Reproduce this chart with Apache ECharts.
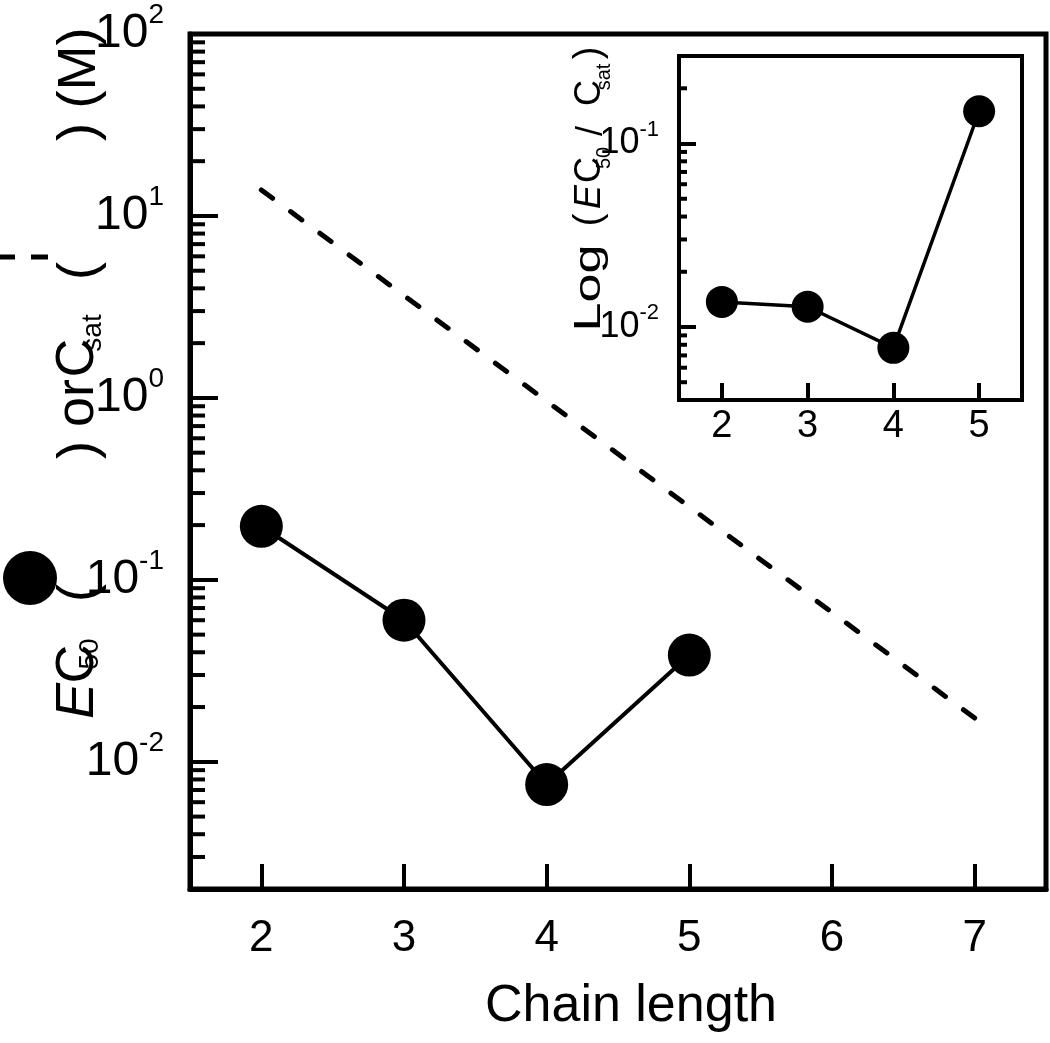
<!DOCTYPE html>
<html>
<head>
<meta charset="utf-8">
<script src="https://cdn.jsdelivr.net/npm/echarts@6/dist/echarts.min.js"></script>
<style>
  html, body { margin: 0; padding: 0; background: #fff; }
  #chart { width: 1050px; height: 1043px; }
</style>
</head>
<body>
<div id="chart"></div>
<script>
  // main panel: EC50 (filled circles) and Csat (dashed line) vs chain length
  const chainLength = [2, 3, 4, 5]
  const ec50 = [0.197, 0.060, 0.0075, 0.0386]
  const csatChain = [2, 7]
  const csat = [13.9, 0.0174]
  // inset: EC50 / Csat
  const insetChain = [2, 3, 4, 5]
  const ratio = [0.0137, 0.0129, 0.0077, 0.15]

  const FONT = 'Liberation Sans, Arial, Helvetica, sans-serif'

  // minor ticks of a log axis (2..9 x 10^n inside the range)
  function logMinor(lo, hi) {
    const out = []
    for (let e = -4; e <= 2; e++) {
      for (let k = 2; k <= 9; k++) {
        const v = +(k * Math.pow(10, e)).toPrecision(3)
        if (v > lo * 1.001 && v < hi * 0.999) out.push(v)
      }
    }
    return out
  }
  const mainMinor = logMinor(0.002, 100)
  const insetMinor = logMinor(0.004, 0.3)

  function powLabel(v) {
    const e = Math.log10(v)
    const r = Math.round(e)
    if (Math.abs(e - r) > 1e-6) return ''
    return '{b|10}{s|' + r + '}'
  }
  function intLabel(v) {
    return Math.abs(v - Math.round(v)) < 1e-6 ? String(Math.round(v)) : ''
  }

  function minorTickSeries(xi, yi, xMin, data, len, width) {
    return {
      type: 'custom',
      xAxisIndex: xi,
      yAxisIndex: yi,
      silent: true,
      clip: false,
      data: data.map(v => [xMin, v]),
      renderItem: (params, api) => {
        const p = api.coord([api.value(0), api.value(1)])
        return {
          type: 'line',
          shape: { x1: p[0], y1: p[1], x2: p[0] + len, y2: p[1] },
          style: { stroke: '#000', lineWidth: width }
        }
      }
    }
  }

  // rotated (bottom-to-top) text piece of an axis title
  function vtext(x, y, text, size, extra) {
    return Object.assign({
      type: 'text',
      x: x,
      y: y,
      rotation: Math.PI / 2,
      silent: true,
      style: Object.assign({
        text: text,
        fontSize: size,
        fontFamily: FONT,
        fill: '#000',
        align: 'center',
        verticalAlign: 'middle'
      }, (extra && extra.style) || {})
    }, extra && extra.scaleX ? { scaleX: extra.scaleX } : {})
  }

  function hdash(x1, x2, y) {
    return {
      type: 'line', silent: true,
      shape: { x1: x1, y1: y, x2: x2, y2: y },
      style: { stroke: '#000', lineWidth: 5 }
    }
  }

  const option = {
    animation: false,
    backgroundColor: '#fff',
    grid: [
      {
        left: 190, top: 34, right: 4, bottom: 154,
        show: true, borderColor: '#000', borderWidth: 5
      },
      {
        left: 679, top: 56, right: 28, bottom: 643,
        show: true, borderColor: '#000', borderWidth: 4, backgroundColor: '#fff'
      }
    ],
    xAxis: [
      {
        type: 'value', gridIndex: 0, min: 1.5, max: 7.5, splitNumber: 6,
        axisLine: { lineStyle: { color: '#000', width: 5 } },
        axisTick: { inside: true, length: 25, lineStyle: { color: '#000', width: 4 } },
        axisLabel: {
          formatter: intLabel, fontSize: 44, color: '#000', fontFamily: FONT, margin: 28
        },
        splitLine: { show: false },
        name: 'Chain length',
        nameLocation: 'middle',
        nameGap: 92,
        nameTextStyle: { fontSize: 52, color: '#000', fontFamily: FONT, padding: [0, 0, 0, 26] }
      },
      {
        type: 'value', gridIndex: 1, min: 1.5, max: 5.5, splitNumber: 4,
        axisLine: { lineStyle: { color: '#000', width: 4 } },
        axisTick: { inside: true, length: 17, lineStyle: { color: '#000', width: 4 } },
        axisLabel: {
          formatter: intLabel, fontSize: 38, color: '#000', fontFamily: FONT, margin: 8
        },
        splitLine: { show: false }
      }
    ],
    yAxis: [
      {
        type: 'log', gridIndex: 0, logBase: 10, min: 0.002, max: 100,
        axisLine: { lineStyle: { color: '#000', width: 5 } },
        axisTick: { inside: true, length: 28, lineStyle: { color: '#000', width: 4 } },
        axisLabel: {
          formatter: powLabel, margin: 26, color: '#000',
          rich: {
            b: { fontSize: 48, fontFamily: FONT, color: '#000', lineHeight: 66 },
            s: { fontSize: 28, fontFamily: FONT, color: '#000', verticalAlign: 'top' }
          }
        },
        splitLine: { show: false }
      },
      {
        type: 'log', gridIndex: 1, logBase: 10, min: 0.004, max: 0.3,
        axisLine: { lineStyle: { color: '#000', width: 4 } },
        axisTick: { inside: true, length: 17, lineStyle: { color: '#000', width: 4 } },
        axisLabel: {
          formatter: powLabel, margin: 20, color: '#000',
          rich: {
            b: { fontSize: 36, fontFamily: FONT, color: '#000', lineHeight: 50 },
            s: { fontSize: 22, fontFamily: FONT, color: '#000', verticalAlign: 'top' }
          }
        },
        splitLine: { show: false }
      }
    ],
    graphic: [
      // main y-axis title, pieces as laid out in the original
      vtext(78, 701, 'E', 54, { style: { fontStyle: 'italic' } }),
      vtext(78, 664, 'C', 54),
      vtext(90, 654, '50', 28),
      vtext(80, 593, '(', 54),
      { type: 'circle', shape: { cx: 30, cy: 578, r: 27 }, style: { fill: '#000' }, silent: true },
      vtext(80, 450, ')', 54),
      vtext(78, 403, 'or', 54),
      vtext(78, 358, 'C', 54),
      vtext(93, 333, 'sat', 28),
      vtext(80, 271, '(', 54),
      hdash(0, 15, 257),
      hdash(31, 48, 257),
      vtext(80, 132, ')', 54),
      vtext(80, 68, '(M)', 54),
      // inset y-axis title
      vtext(590, 288, 'Log', 36, { scaleX: 1.45 }),
      vtext(590, 220, '(', 38),
      vtext(590, 197, 'E', 36, { style: { fontStyle: 'italic' } }),
      vtext(590, 170, 'C', 36),
      vtext(604, 158, '50', 20),
      vtext(592, 131, '/', 36),
      vtext(590, 93, 'C', 36),
      vtext(604, 77, 'sat', 20),
      vtext(590, 53, ')', 38)
    ],
    series: [
      minorTickSeries(0, 0, 1.5, mainMinor, 15, 4),
      {
        type: 'line',
        xAxisIndex: 0, yAxisIndex: 0,
        data: csatChain.map((x, i) => [x, csat[i]]),
        symbol: 'none',
        lineStyle: { color: '#000', width: 5, type: [14, 22.4], cap: 'round' },
        z: 3
      },
      {
        type: 'line',
        xAxisIndex: 0, yAxisIndex: 0,
        data: chainLength.map((x, i) => [x, ec50[i]]),
        symbol: 'circle', symbolSize: 43,
        itemStyle: { color: '#000' },
        lineStyle: { color: '#000', width: 4 },
        z: 4
      },
      minorTickSeries(1, 1, 1.5, insetMinor, 8, 4),
      {
        type: 'line',
        xAxisIndex: 1, yAxisIndex: 1,
        data: insetChain.map((x, i) => [x, ratio[i]]),
        symbol: 'circle', symbolSize: 32,
        itemStyle: { color: '#000' },
        lineStyle: { color: '#000', width: 3.5 },
        z: 4
      }
    ]
  }

  const myChart = echarts.init(document.getElementById('chart'), null, { renderer: 'canvas' })
  myChart.setOption(option)
</script>
</body>
</html>
